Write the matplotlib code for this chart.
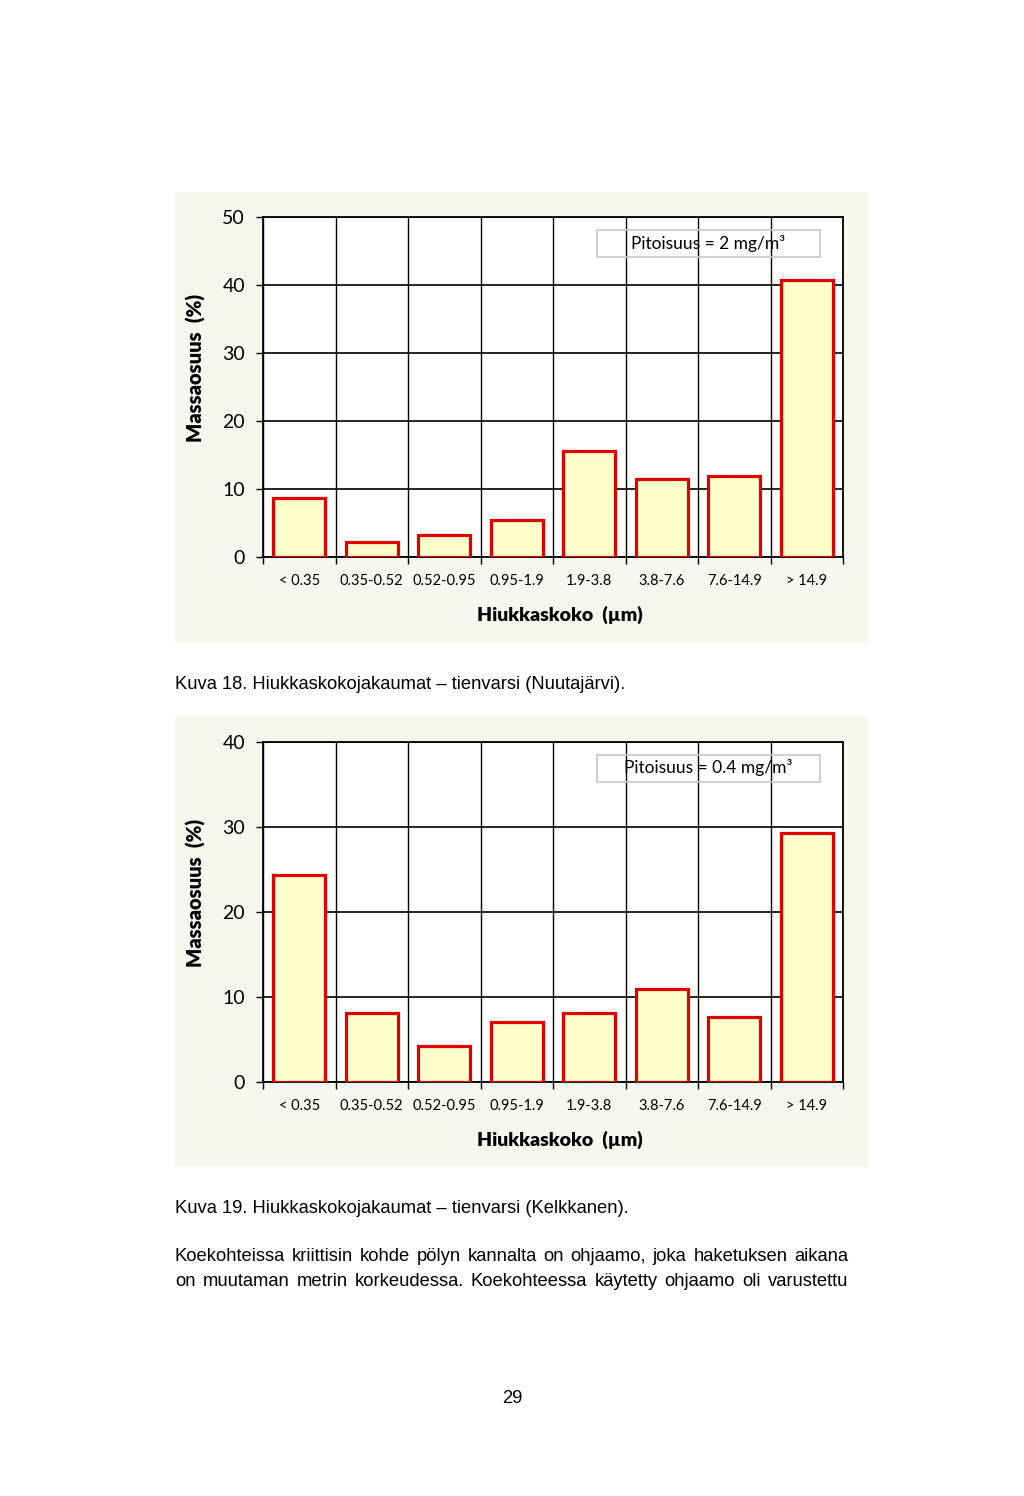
import matplotlib
matplotlib.use("Agg")
from matplotlib import pyplot as plt
from matplotlib.patches import Rectangle
import numpy as np

W, H = 1024, 1496

categories = ["< 0.35", "0.35-0.52", "0.52-0.95", "0.95-1.9", "1.9-3.8", "3.8-7.6", "7.6-14.9", "> 14.9"]
mass_nuutajarvi = [8.7, 2.2, 3.3, 5.5, 15.6, 11.4, 11.9, 40.7]
mass_kelkkanen = [24.4, 8.1, 4.2, 7.1, 8.1, 10.9, 7.6, 29.3]
conc_labels = ["Pitoisuus = 2 mg/m³", "Pitoisuus = 0.4 mg/m³"]
ymaxes = [50, 40]
captions = ["Kuva 18. Hiukkaskokojakaumat – tienvarsi (Nuutajärvi).",
            "Kuva 19. Hiukkaskokojakaumat – tienvarsi (Kelkkanen)."]
body_lines = ["Koekohteissa kriittisin kohde pölyn kannalta on ohjaamo, joka haketuksen aikana",
              "on muutaman metrin korkeudessa. Koekohteessa käytetty ohjaamo oli varustettu"]
page_number = "29"

chart_font = "Lato"
text_font = "Liberation Sans"
text_size = 13.2


def fx(x):
    return x / W


def fy(y):
    return 1 - y / H


fig = plt.figure(figsize=(W / 100, H / 100), dpi=100)
fig.patch.set_facecolor("white")

panel_tops = [192, 717]
plot_tops = [217, 742]
datasets = [mass_nuutajarvi, mass_kelkkanen]

for k in range(2):
    # grey-ish panel behind the chart
    pt = panel_tops[k]
    fig.patches.append(Rectangle((fx(175), fy(pt + 450)), fx(693), 450 / H,
                                 transform=fig.transFigure, facecolor="#f6f7ef",
                                 edgecolor="none", zorder=-5))
    top = plot_tops[k]
    ax = fig.add_axes([fx(263), fy(top + 340), fx(580), 340 / H])
    ax.set_zorder(2)
    ax.set_facecolor("white")
    x = np.arange(len(categories))
    ax.bar(x, datasets[k], width=0.72, color="#ffffcc", edgecolor="#e00000",
           linewidth=2.3, zorder=3)
    ax.set_xlim(-0.5, len(categories) - 0.5)
    ax.set_ylim(0, ymaxes[k])
    ax.set_yticks(np.arange(0, ymaxes[k] + 1, 10))
    ax.set_xticks(x)
    ax.set_xticklabels(categories, fontfamily=chart_font, fontsize=10.5)
    ax.set_xticks(np.arange(-0.5, len(categories), 1), minor=True)
    ax.tick_params(axis="x", which="major", length=0, pad=12)
    ax.tick_params(axis="x", which="minor", length=5, width=1, direction="out")
    ax.tick_params(axis="y", length=5, width=1, direction="out", pad=8)
    for lab in ax.get_yticklabels():
        lab.set_fontfamily(chart_font)
        lab.set_fontsize(14)
    ax.grid(True, which="minor", axis="x", color="black", linewidth=1, zorder=1)
    ax.grid(True, which="major", axis="y", color="black", linewidth=1.2, zorder=1)
    ax.set_axisbelow(True)
    for s in ax.spines.values():
        s.set_linewidth(1.3)
        s.set_color("black")
    ax.set_ylabel("Massaosuus  (%)", fontfamily=chart_font, fontweight="heavy", fontsize=14.5)
    ax.yaxis.set_label_coords(-0.098, 0.557)
    ax.set_xlabel("Hiukkaskoko  (µm)", fontfamily=chart_font, fontweight="heavy", fontsize=14)
    ax.xaxis.set_label_coords(0.512, -0.144)
    # concentration box
    ax.add_patch(Rectangle((334 / 580, 300 / 340), 223 / 580, 27 / 340,
                           transform=ax.transAxes, facecolor="none",
                           edgecolor="#c8c8c8", linewidth=1.2, zorder=4))
    ax.text(445 / 580, 314 / 340, conc_labels[k], transform=ax.transAxes,
            ha="center", va="center", fontfamily=chart_font, fontsize=12.5, zorder=5)

fig.text(fx(175), fy(689), captions[0], fontfamily=text_font, fontsize=text_size, va="baseline")
fig.text(fx(175), fy(1213), captions[1], fontfamily=text_font, fontsize=text_size, va="baseline")

# justified body text
renderer = fig.canvas.get_renderer()
left, right = 175, 848
for i, line in enumerate(body_lines):
    words = line.split(" ")
    items = [fig.text(0, fy(1261 + 25 * i), w, fontfamily=text_font, fontsize=text_size,
                      va="baseline") for w in words]
    widths = [t.get_window_extent(renderer).width for t in items]
    gap = (right - left - sum(widths)) / (len(words) - 1)
    pos = left
    for t, w in zip(items, widths):
        t.set_x(fx(pos))
        pos += w + gap

fig.text(fx(512), fy(1403), page_number, fontfamily=text_font, fontsize=text_size,
         ha="center", va="baseline")

fig.savefig("out.png", dpi=100)
